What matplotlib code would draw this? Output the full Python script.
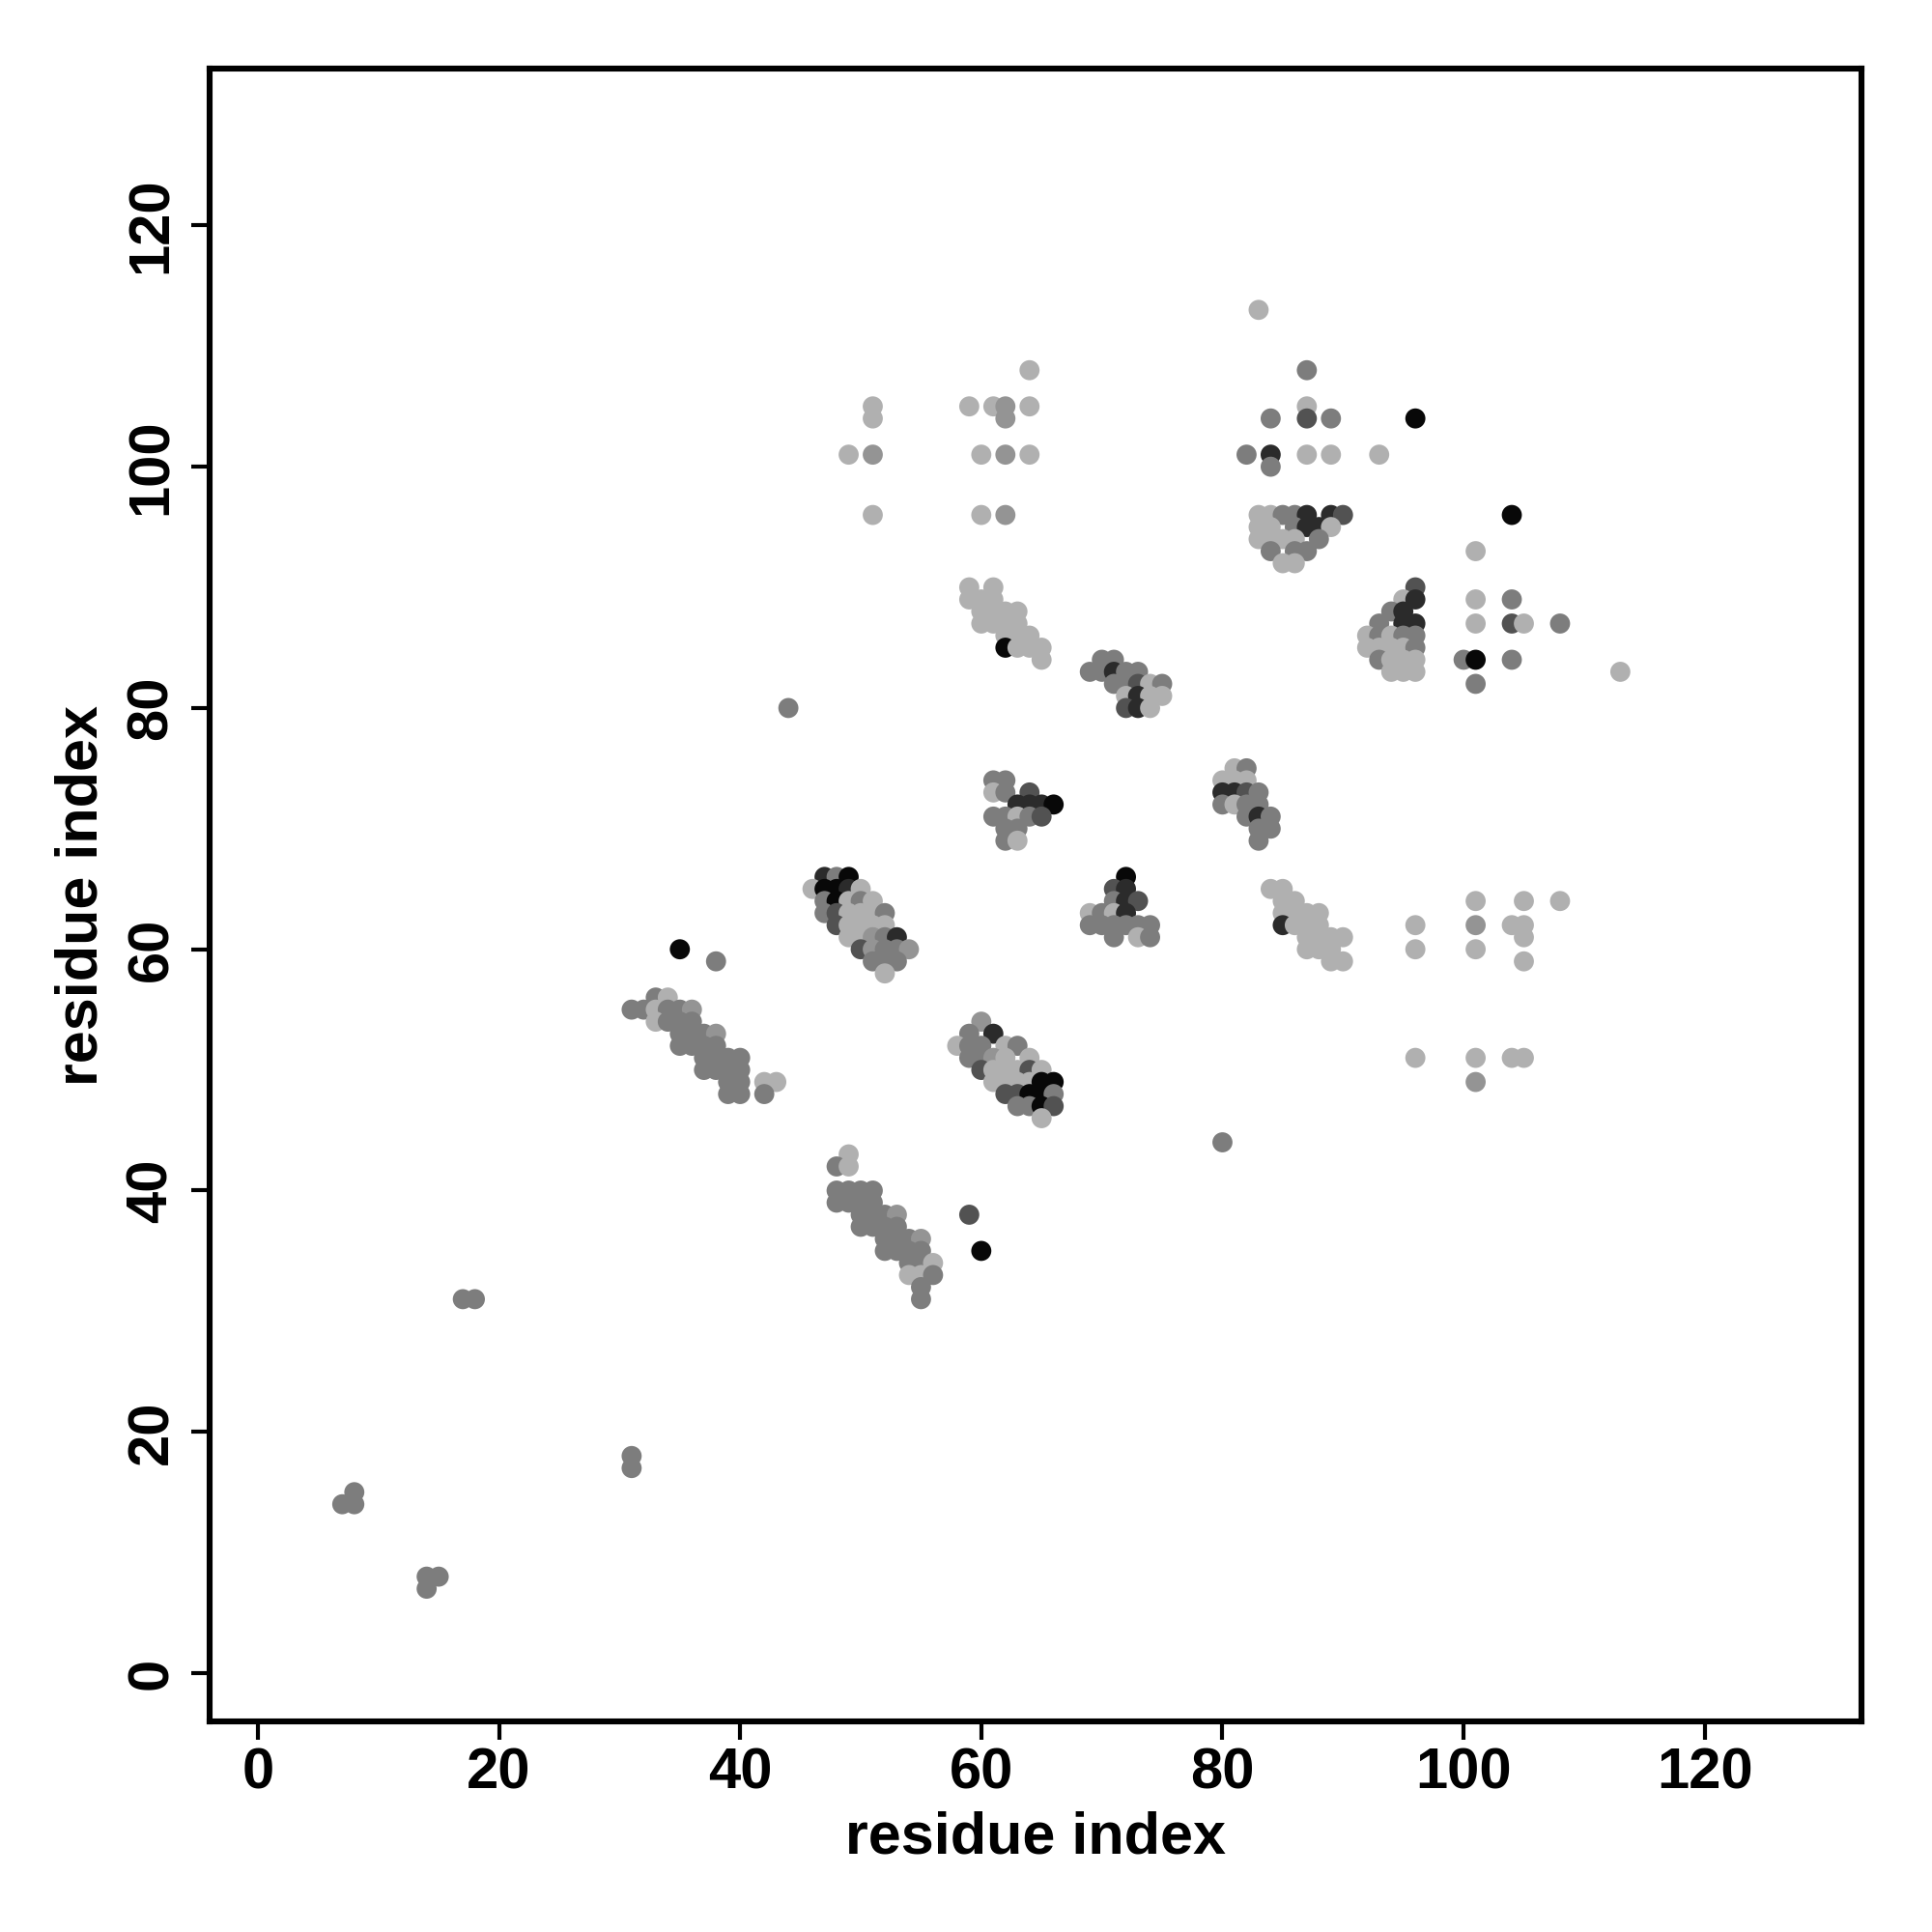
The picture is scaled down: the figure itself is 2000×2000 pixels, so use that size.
import matplotlib
matplotlib.use("Agg")
import matplotlib.pyplot as plt

# grey levels (fraction of white) used in the contact map
grey_levels = {"l": 0.69, "g2": 0.58, "g": 0.49, "d2": 0.32, "d": 0.17, "k": 0.03}

# contact list: residue i, residue j, grey code
res_i = [
    7, 8, 8, 14, 15, 14, 17, 18, 31, 31,
    44, 80, 35, 38, 59, 60,
    # cluster A
    33, 34, 31, 32, 33, 34, 35, 36, 33, 34, 35, 36, 35, 36, 37, 38, 35, 36, 37, 38,
    37, 38, 39, 40, 37, 38, 39, 40, 39, 40, 42, 43, 39, 40, 42,
    # cluster B
    47, 48, 49, 46, 47, 48, 49, 50, 47, 48, 49, 50, 51, 47, 48, 49, 50, 51, 52,
    48, 49, 50, 51, 52, 49, 50, 51, 52, 53, 50, 51, 52, 53, 54, 51, 52, 53, 52,
    # cluster C
    49, 48, 49, 48, 49, 50, 51, 48, 49, 50, 51, 50, 51, 52, 53, 50, 51, 52, 53,
    52, 53, 54, 55, 52, 53, 54, 55, 54, 55, 56, 54, 55, 56, 55, 55,
    # cluster D
    60, 59, 61, 58, 59, 60, 62, 63, 59, 60, 61, 62, 64, 60, 61, 62, 63, 64, 65,
    61, 62, 63, 64, 65, 66, 62, 63, 64, 65, 66, 63, 64, 65, 66, 65,
    # cluster E
    61, 62, 61, 62, 64, 63, 64, 65, 66, 61, 62, 63, 64, 65, 62, 63, 62, 63,
    # cluster F
    72, 71, 72, 71, 72, 73, 69, 70, 71, 72, 69, 70, 71, 72, 73, 74, 71, 73, 74,
    # cluster G
    70, 71, 69, 70, 71, 72, 73, 71, 72, 73, 74, 75, 72, 73, 74, 75, 72, 73, 74,
    # cluster H
    59, 61, 59, 60, 61, 60, 61, 62, 63, 60, 61, 62, 63, 62, 63, 64, 62, 63, 64, 65, 65,
    # cluster I
    81, 82, 80, 81, 82, 80, 81, 82, 83, 80, 81, 82, 83, 82, 83, 84, 83, 84, 83,
    # cluster J
    84, 85, 85, 86, 85, 86, 87, 88, 85, 86, 87, 88, 87, 88, 89, 90, 87, 88, 89, 89, 90,
    # right lower scattered
    96, 96, 96, 101, 101, 101, 101, 101, 104, 105, 105, 105, 105, 104, 105, 108,
    # top left scattered
    49, 51, 51, 51, 51, 59, 61, 62, 62, 64, 64, 60, 62, 64, 60, 62,
    # cluster K top
    83, 87, 87, 84, 87, 89, 82, 84, 84, 87, 89, 93, 96,
    # cluster K lower
    83, 84, 85, 86, 87, 89, 90, 83, 84, 86, 87, 88, 89, 83, 84, 85, 86, 88, 84, 86, 87, 85, 86,
    # cluster L
    101, 96, 95, 96, 101, 104, 94, 95, 93, 95, 96, 101, 104, 105, 108,
    92, 93, 94, 95, 96, 92, 93, 94, 95, 96, 93, 94, 95, 96, 94, 95, 96,
    100, 101, 104, 101, 104, 113,
]
res_j = [
    14, 14, 15, 8, 8, 7, 31, 31, 18, 17,
    80, 44, 60, 59, 38, 35,
    56, 56, 55, 55, 55, 55, 55, 55, 54, 54, 54, 54, 53, 53, 53, 53, 52, 52, 52, 52,
    51, 51, 51, 51, 50, 50, 50, 50, 49, 49, 49, 49, 48, 48, 48,
    66, 66, 66, 65, 65, 65, 65, 65, 64, 64, 64, 64, 64, 63, 63, 63, 63, 63, 63,
    62, 62, 62, 62, 62, 61, 61, 61, 61, 61, 60, 60, 60, 60, 60, 59, 59, 59, 58,
    43, 42, 42, 40, 40, 40, 40, 39, 39, 39, 39, 38, 38, 38, 38, 37, 37, 37, 37,
    36, 36, 36, 36, 35, 35, 35, 35, 34, 34, 34, 33, 33, 33, 32, 31,
    54, 53, 53, 52, 52, 52, 52, 52, 51, 51, 51, 51, 51, 50, 50, 50, 50, 50, 50,
    49, 49, 49, 49, 49, 49, 48, 48, 48, 48, 48, 47, 47, 47, 47, 46,
    74, 74, 73, 73, 73, 72, 72, 72, 72, 71, 71, 71, 71, 71, 70, 70, 69, 69,
    66, 65, 65, 64, 64, 64, 63, 63, 63, 63, 62, 62, 62, 62, 62, 62, 61, 61, 61,
    84, 84, 83, 83, 83, 83, 83, 82, 82, 82, 82, 82, 81, 81, 81, 81, 80, 80, 80,
    90, 90, 89, 89, 89, 88, 88, 88, 88, 87, 87, 87, 87, 86, 86, 86, 85, 85, 85, 85, 84,
    75, 75, 74, 74, 74, 73, 73, 73, 73, 72, 72, 72, 72, 71, 71, 71, 70, 70, 69,
    65, 65, 64, 64, 63, 63, 63, 63, 62, 62, 62, 62, 61, 61, 61, 61, 60, 60, 60, 59, 59,
    62, 60, 51, 64, 62, 60, 51, 49, 62, 62, 64, 61, 59, 51, 51, 64,
    101, 105, 104, 101, 96, 105, 105, 105, 104, 105, 108, 101, 101, 101, 96, 96,
    113, 108, 105, 104, 104, 104, 101, 101, 100, 101, 101, 101, 104,
    96, 96, 96, 96, 96, 96, 96, 95, 95, 95, 95, 95, 95, 94, 94, 94, 94, 94, 93, 93, 93, 92, 92,
    93, 90, 89, 89, 89, 89, 88, 88, 87, 87, 87, 87, 87, 87, 87,
    86, 86, 86, 86, 86, 85, 85, 85, 85, 85, 84, 84, 84, 84, 83, 83, 83,
    84, 84, 84, 82, 96, 83,
]
res_grey = [
    "g", "g", "g", "g", "g", "g", "g", "g", "g", "g",
    "g", "g", "k", "g", "d2", "k",
    "g", "l", "g", "g", "l", "g", "g", "g2", "l", "g", "g", "g", "g", "g", "g", "g2", "g", "g", "g", "g",
    "g", "g", "g", "g", "g", "g", "g", "g", "g", "g", "l", "l", "g", "g", "g",
    "d", "g", "k", "l", "k", "k", "d", "l", "g", "k", "l", "g", "l", "g", "d2", "l", "l", "l", "g",
    "d2", "l", "l", "l", "l", "l", "l", "g2", "g", "d", "d2", "g2", "g", "g", "g2", "g", "g", "g", "l",
    "l", "g", "l", "g", "g", "g", "g", "g", "g", "g", "g", "g", "g", "g", "g2", "g", "g", "g", "g",
    "g", "g", "g", "g2", "g", "g", "g", "g", "g", "g", "l", "l", "l", "g", "g", "g",
    "g2", "g", "d", "l", "g", "g", "l", "g", "g", "g", "g2", "l", "l", "d2", "l", "l", "l", "d2", "l",
    "l", "l", "l", "l", "k", "k", "d2", "d2", "k", "k", "g", "g", "g", "k", "d2", "l",
    "g", "g", "l", "g", "d2", "d", "d", "d", "k", "g", "g", "l", "g", "d2", "g", "g", "g", "l",
    "k", "d2", "d", "g", "d", "d2", "l", "g", "l", "d", "g", "g", "g", "g", "g", "g", "g", "l", "g",
    "g", "g", "g", "g", "d", "g", "g", "g", "g", "d2", "l", "g", "l", "d", "l", "l", "d2", "d", "l",
    "l", "l", "l", "l", "l", "l", "l", "l", "l", "l", "l", "l", "l", "l", "l", "l", "k", "l", "l", "l", "l",
    "l", "g", "l", "l", "l", "d", "d", "d2", "g", "g", "l", "g", "g", "g", "d", "g", "g", "g", "g",
    "l", "l", "l", "l", "l", "l", "l", "l", "d", "l", "l", "l", "l", "l", "l", "l", "l", "l", "l", "l", "l",
    "l", "l", "l", "l", "g2", "l", "l", "g2", "l", "l", "l", "l", "l", "l", "l", "l",
    "l", "l", "l", "g2", "l", "l", "l", "g2", "g2", "l", "l", "l", "g2", "l", "l", "g2",
    "l", "g", "l", "g", "d2", "g", "g", "d", "g", "l", "l", "l", "k",
    "l", "l", "g", "g", "d", "d", "d2", "l", "l", "g", "d", "d", "l", "l", "l", "l", "l", "g", "g", "g", "g", "l", "l",
    "l", "d2", "l", "d", "l", "g", "g", "d", "g", "d", "d", "l", "d2", "l", "g",
    "l", "g", "l", "g", "g", "l", "l", "l", "l", "g", "g", "l", "l", "l", "l", "l", "l",
    "g", "k", "g", "g", "k", "l",
]

x_ticks = [0, 20, 40, 60, 80, 100, 120]
y_ticks = [0, 20, 40, 60, 80, 100, 120]
axis_label = "residue index"

plt.rcParams["font.family"] = ["Liberation Sans", "DejaVu Sans"]
fig = plt.figure(figsize=(10, 10), dpi=200)
ax = fig.add_axes([0.1085, 0.109, 0.855, 0.8555])

cols = [str(grey_levels[g]) for g in res_grey]
ax.scatter(res_i, res_j, c=cols, s=56, linewidths=0, zorder=2)

ax.set_xlim(-4, 133)
ax.set_ylim(-4, 133)
ax.set_xticks(x_ticks)
ax.set_yticks(y_ticks)
ax.set_xticklabels([str(t) for t in x_ticks], fontsize=21.5, fontweight="bold")
ax.set_yticklabels([str(t) for t in y_ticks], fontsize=21.5, fontweight="bold",
                   rotation=90, va="center")
ax.tick_params(axis="x", direction="out", length=7, width=1.5, pad=2.5)
ax.tick_params(axis="y", direction="out", length=7, width=1.5, pad=4.5)
for sp in ax.spines.values():
    sp.set_linewidth(2.2)
ax.set_xlabel(axis_label, fontsize=22, fontweight="bold", labelpad=4)
ax.set_ylabel(axis_label, fontsize=22, fontweight="bold", labelpad=6)

fig.savefig("out.png", dpi=200, facecolor="white")
